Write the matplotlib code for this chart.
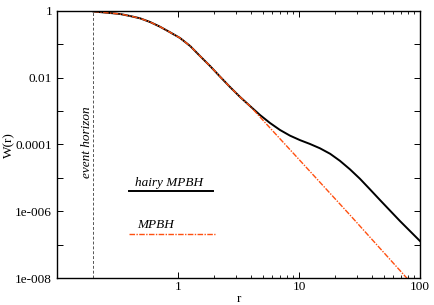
import numpy as np
import matplotlib
matplotlib.use('Agg')
import matplotlib.pyplot as plt
from matplotlib.ticker import NullFormatter

plt.rcParams['font.family'] = ['Liberation Serif', 'DejaVu Serif']

# Values
r_hairy = [0.2, 0.274, 0.332, 0.401, 0.485, 0.587, 0.71, 0.86, 1.04, 1.26, 1.52, 1.84,
           2.22, 2.69, 3.26, 3.94, 4.76, 5.76, 6.97, 8.43, 10.2, 12.3, 14.9, 18.1,
           21.8, 26.4, 31.9, 38.6, 46.7, 56.5, 68.3, 82.6, 100]
W_hairy = [0.966, 0.871, 0.813, 0.708, 0.604, 0.468, 0.338, 0.230, 0.155, 0.0893, 0.0448, 0.0225,
           0.0109, 5.28e-3, 2.65e-3, 1.42e-3, 7.65e-4, 4.41e-4, 2.72e-4, 1.84e-4, 1.35e-4, 1.04e-4,
           7.7e-5, 5.26e-5, 3.24e-5, 1.80e-5, 9.4e-6, 4.54e-6, 2.17e-6, 1.05e-6, 5.1e-7, 2.56e-7, 1.28e-7]

r_mpbh = [0.2, 0.274, 0.332, 0.401, 0.485, 0.587, 0.71, 0.86, 1.04, 1.26, 1.52, 1.84,
          2.22, 2.69, 3.26, 3.94, 5.43, 10.2, 26.4, 77.7, 90]
W_mpbh = [0.966, 0.871, 0.813, 0.708, 0.604, 0.468, 0.338, 0.230, 0.155, 0.0893, 0.0448, 0.0225,
          0.0109, 5.28e-3, 2.65e-3, 1.42e-3, 3.96e-4, 3.3e-5, 7.7e-7, 1.0e-8, 7e-9]

r_horizon = 0.2

xticks = [1, 10, 100]
xtick_labels = ['1', '10', '100']
xminor = [2, 3, 4, 5, 6, 7, 8, 9, 20, 30, 40, 50, 60, 70, 80, 90]
yticks = [1, 1e-2, 1e-4, 1e-6, 1e-8]
ytick_labels = ['1', '0.01', '0.0001', '1e-006', '1e-008']
yminor = [1e-1, 1e-3, 1e-5, 1e-7]

fig = plt.figure(figsize=(4.35, 3.05), dpi=100)
ax = fig.add_axes([0.131, 0.0885, 0.8345, 0.8755])

ax.plot(r_hairy, W_hairy, color='black', lw=1.4)
ax.plot(r_mpbh, W_mpbh, color='#ff5010', lw=1.0, ls=(0, (4, 1, 1, 1)))
ax.axvline(r_horizon, color='#555555', lw=0.7, ls=(0, (3, 2)))

ax.set_xscale('log')
ax.set_yscale('log')
ax.set_xlim(0.1, 100)
ax.set_ylim(1e-8, 1)

ax.set_xticks(xticks)
ax.set_xticklabels(xtick_labels)
ax.set_xticks(xminor, minor=True)
ax.set_yticks(yticks)
ax.set_yticklabels(ytick_labels)
ax.set_yticks(yminor, minor=True)
ax.xaxis.set_minor_formatter(NullFormatter())
ax.yaxis.set_minor_formatter(NullFormatter())
ax.tick_params(which='both', direction='in', top=True, right=True, labelsize=9.5)
ax.tick_params(axis='x', which='both', pad=2)
ax.tick_params(axis='y', which='both', pad=3.5)
ax.tick_params(which='major', length=4, width=0.7)
ax.tick_params(axis='x', which='minor', length=2, width=0.6)
ax.tick_params(axis='y', which='minor', length=4, width=0.7)
for s in ax.spines.values():
    s.set_linewidth(1.0)

ax.set_xlabel('r', fontsize=9.5, labelpad=0)
ax.set_ylabel('W(r)', fontsize=9.5)
ax.yaxis.set_label_coords(-0.114, 0.498)

# event horizon label
ax.text(0.083, 0.51, 'event horizon', transform=ax.transAxes, rotation=90,
        style='italic', fontsize=9.5, ha='center', va='center')

# hand-made legend, gnuplot style
ax.text(0.215, 0.356, 'hairy MPBH', transform=ax.transAxes, style='italic',
        fontsize=9.5, ha='left', va='center')
ax.plot([0.198, 0.430], [0.326, 0.326], transform=ax.transAxes, color='black', lw=1.4)
ax.text(0.222, 0.199, 'MPBH', transform=ax.transAxes, style='italic',
        fontsize=9.5, ha='left', va='center')
ax.plot([0.198, 0.435], [0.165, 0.165], transform=ax.transAxes, color='#ff5010',
        lw=1.0, ls=(0, (4, 1, 1, 1)))

fig.savefig('out.png', dpi=100)
